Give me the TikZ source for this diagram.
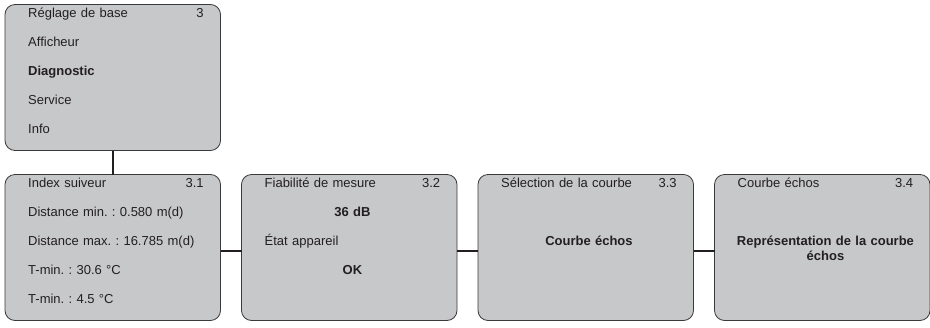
\documentclass[tikz,border=0pt]{standalone}
\usepackage{fontspec}
\setmainfont{Liberation Sans}
\frenchspacing
\usetikzlibrary{positioning}
\definecolor{menugray}{HTML}{C7C8CA}
\definecolor{framegray}{HTML}{3A3A3A}
\definecolor{inkgray}{HTML}{231F20}
\tikzset{
  menubox/.style={draw=framegray,fill=menugray,rounded corners=10pt,line width=.8pt,minimum width=215.5pt,minimum height=146pt,inner sep=0pt,outer sep=0pt},
  menutext/.style={anchor=north west,inner sep=0pt,text width=175.5pt,align=left,text=inkgray,font=\fontsize{13}{29}\selectfont},
  link/.style={draw=inkgray,line width=2pt},
}

\begin{document}
\begin{tikzpicture}[x=1pt,y=1pt,node distance=21pt]
      \useasboundingbox (0,0) rectangle (930,-327);
      \node[menubox,anchor=north west] (base) at (5,-4.5) {};
      \node[menubox,below=24pt of base] (idx) {};
      \node[menubox,right=of idx] (fiab) {};
      \node[menubox,right=of fiab] (sel) {};
      \node[menubox,right=of sel] (echo) {};
      \draw[link] (base.south)--(idx.north);
      \draw[link] ([yshift=-3pt]idx.east)--([yshift=-3pt]fiab.west);
      \draw[link] ([yshift=-3pt]fiab.east)--([yshift=-3pt]sel.west);
      \draw[link] ([yshift=-3pt]sel.east)--([yshift=-3pt]echo.west);
      \node[menutext] (baseTxt) at ([xshift=23pt,yshift=-3.5pt]base.north west) {R\'eglage de base\hfill 3\\Afficheur\\\textbf{Diagnostic}\\Service\\Info};
      \node[menutext] (idxTxt) at ([xshift=23pt,yshift=-3.5pt]idx.north west) {Index suiveur\hfill 3.1\\Distance min. : 0.580 m(d)\\Distance max. : 16.785 m(d)\\T-min. : 30.6 \textdegree C\\T-min. : 4.5 \textdegree C};
      \node[menutext] (fiabTxt) at ([xshift=23pt,yshift=-3.5pt]fiab.north west) {Fiabilit\'e de mesure\hfill 3.2\\\hfill\textbf{36 dB}\hfill\null\\\'Etat appareil\\\hfill\textbf{OK}\hfill\null};
      \node[menutext] (selTxt) at ([xshift=23pt,yshift=-3.5pt]sel.north west) {S\'election de la courbe\hfill 3.3\\\mbox{}\\\hfill\textbf{Courbe \'echos}\hfill\null};
      \node[menutext] (echoTxt) at ([xshift=23pt,yshift=-3.5pt]echo.north west) {Courbe \'echos\hfill 3.4\\\mbox{}\\\makebox[\linewidth][c]{\fontsize{13}{15}\selectfont\begin{tabular}[t]{@{}c@{}}\textbf{Repr\'esentation de la courbe}\\\textbf{\'echos}\end{tabular}}};
    \end{tikzpicture}
\end{document}
